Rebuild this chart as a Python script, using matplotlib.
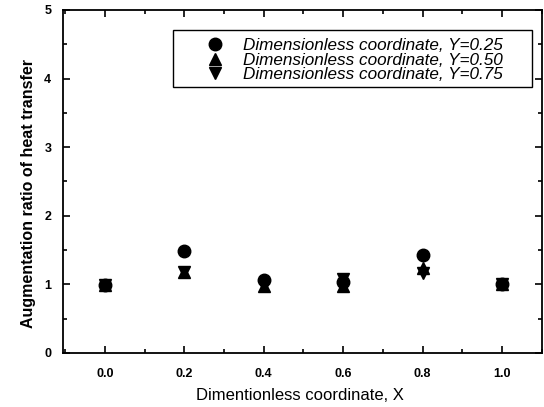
import matplotlib
matplotlib.use("Agg")
import matplotlib.pyplot as plt
from matplotlib.ticker import MultipleLocator
from matplotlib.patches import Rectangle

x = [0.0, 0.2, 0.4, 0.6, 0.8, 1.0]
y025 = [0.99, 1.49, 1.07, 1.03, 1.43, 1.01]
y050 = [0.99, 1.18, 0.97, 0.98, 1.24, 1.01]
y075 = [0.99, 1.18, 0.97, 1.08, 1.17, 1.01]
labels = ["Dimensionless coordinate, Y=0.25",
          "Dimensionless coordinate, Y=0.50",
          "Dimensionless coordinate, Y=0.75"]
xtick_labels = ["0.0", "0.2", "0.4", "0.6", "0.8", "1.0"]

plt.rcParams['font.family'] = ['Liberation Sans', 'DejaVu Sans']

fig = plt.figure(figsize=(5.44, 4.07), dpi=100)
ax = fig.add_axes([0.116, 0.1327, 0.880, 0.8428])

ax.plot(x, y025, 'o', color='black', markersize=9, linestyle='none', label=labels[0])
ax.plot(x, y050, '^', color='black', markersize=9, linestyle='none', label=labels[1])
ax.plot(x, y075, 'v', color='black', markersize=9, linestyle='none', label=labels[2])

ax.set_xlim(-0.105, 1.1)
ax.set_ylim(0, 5)
ax.xaxis.set_minor_locator(MultipleLocator(0.1))
ax.yaxis.set_major_locator(MultipleLocator(1))
ax.yaxis.set_minor_locator(MultipleLocator(0.5))
ax.set_xticks(x)
ax.set_xticklabels(xtick_labels)
ax.tick_params(which='both', direction='in', top=True, right=True, width=1.2)
ax.tick_params(which='major', length=5, labelsize=9)
ax.tick_params(axis='x', which='major', pad=10.5)
ax.tick_params(axis='y', which='major', pad=8.5)
ax.tick_params(which='minor', length=3)
for lab in ax.get_xticklabels() + ax.get_yticklabels():
    lab.set_fontweight('bold')
for s in ax.spines.values():
    s.set_linewidth(1.3)

ax.set_xlabel("Dimentionless coordinate, X", fontsize=12)
ax.set_ylabel("Augmentation ratio of heat transfer", fontsize=11.5, fontweight='bold')
ax.xaxis.set_label_coords(0.495, -0.102)
ax.yaxis.set_label_coords(-0.056, 0.4636)

leg = ax.legend(loc='upper left', bbox_to_anchor=(0.2906, 0.918), frameon=False,
                handletextpad=0.9, borderpad=0, borderaxespad=0,
                labelspacing=-0.02, handlelength=1.5,
                prop={'style': 'italic', 'size': 12.3})
ax.add_patch(Rectangle((0.2296, 0.7755), 0.979 - 0.2296, 0.9417 - 0.7755,
                       transform=ax.transAxes, fill=False, edgecolor='black',
                       linewidth=1.0, zorder=4))

fig.savefig("out.png", dpi=100)
